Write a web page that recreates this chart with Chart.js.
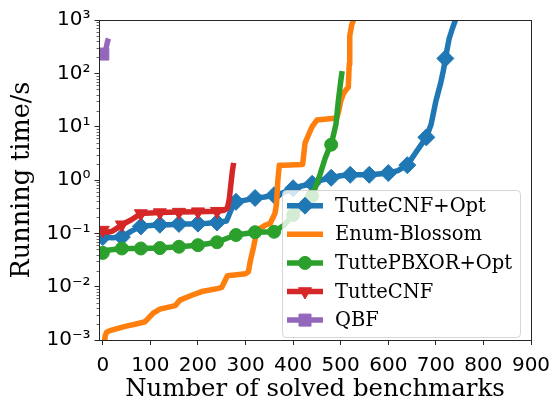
<!DOCTYPE html>
<html>
<head>
<meta charset="utf-8">
<script src="https://cdn.jsdelivr.net/npm/chart.js@4.4.1/dist/chart.umd.min.js"></script>
<style>
  html, body { margin: 0; padding: 0; background: #fff; }
  #wrap { width: 555px; height: 405px; }
</style>
</head>
<body>
<div id="wrap"><canvas id="cactus" width="555" height="405"></canvas></div>
<script>
// axis ticks
const xTicks = [0, 100, 200, 300, 400, 500, 600, 700, 800, 900];
const yTicks = [0.001, 0.01, 0.1, 1, 10, 100, 1000];
const yTickLabels = ["10⁻³", "10⁻²", "10⁻¹", "10⁰", "10¹", "10²", "10³"];

const seriesNames = ["TutteCNF+Opt", "Enum-Blossom", "TuttePBXOR+Opt", "TutteCNF", "QBF"];

// number of solved benchmarks -> running time (s)
const optX = [0, 20, 40, 60, 80, 100, 120, 140, 160, 180, 200, 220, 240, 260, 270, 280, 300, 320, 340, 360, 380, 400, 420, 440, 460, 480, 500, 520, 540, 560, 580, 600, 620, 640, 660, 680, 690, 700, 710, 716, 720, 728, 735, 742];
const optY = [0.085, 0.083, 0.085, 0.11, 0.135, 0.14, 0.145, 0.145, 0.15, 0.15, 0.152, 0.155, 0.16, 0.17, 0.28, 0.39, 0.42, 0.46, 0.48, 0.52, 0.58, 0.7, 0.78, 0.85, 1.0, 1.1, 1.2, 1.25, 1.25, 1.25, 1.3, 1.35, 1.5, 1.9, 3.5, 6.3, 11, 30, 65, 115, 190, 450, 700, 1050];

const enumX = [3, 5, 8, 15, 26, 47, 70, 89, 100, 106, 120, 152, 162, 187, 208, 243, 250, 255, 262, 300, 306, 310, 317, 324, 340, 352, 358, 362, 365, 368, 371, 380, 420, 425, 432, 440, 450, 492, 496, 500, 506, 512, 516, 518, 519, 523, 527, 530];
const enumY = [0.0008, 0.0012, 0.0014, 0.0015, 0.0016, 0.0018, 0.002, 0.0022, 0.0028, 0.0032, 0.0038, 0.0044, 0.0056, 0.0069, 0.0081, 0.0093, 0.0097, 0.012, 0.016, 0.0175, 0.019, 0.03, 0.056, 0.115, 0.14, 0.155, 0.2, 0.24, 0.35, 1.0, 1.9, 1.9, 1.95, 4.9, 6.9, 10, 13.3, 14.5, 20, 30, 42, 50, 55, 150, 500, 800, 1000, 1200];

const pbxorX = [0, 10, 40, 80, 120, 160, 200, 240, 260, 280, 320, 360, 380, 400, 420, 440, 446, 457, 467, 475, 480, 490, 495, 500, 503];
const pbxorY = [0.043, 0.048, 0.052, 0.052, 0.053, 0.056, 0.06, 0.068, 0.08, 0.093, 0.105, 0.107, 0.14, 0.22, 0.32, 0.5, 0.7, 1.3, 2.5, 3.8, 4.6, 11, 30, 70, 110];

const cnfX = [0, 10, 20, 30, 40, 60, 75, 80, 120, 160, 200, 240, 255, 262, 266, 269, 272, 275];
const cnfY = [0.115, 0.105, 0.11, 0.125, 0.145, 0.18, 0.22, 0.235, 0.245, 0.25, 0.255, 0.26, 0.27, 0.3, 0.45, 0.8, 1.4, 2.1];

const qbfX = [0, 2, 4, 6, 8, 10, 12];
const qbfY = [230, 240, 250, 270, 330, 400, 450];

const markEvery = 40;

function toPoints(xs, ys) {
  return xs.map((x, i) => ({ x: x, y: ys[i] }));
}

function series(label, xs, ys, color, style, radius, order, rotation) {
  return {
    label: label,
    data: toPoints(xs, ys),
    borderColor: color,
    backgroundColor: color,
    borderWidth: 5.5,
    borderJoinStyle: "round",
    tension: 0,
    pointStyle: style,
    pointRotation: rotation || 0,
    markerRadius: radius,
    pointRadius: ctx => (ctx.raw && ctx.raw.x % markEvery === 0) ? radius : 0,
    pointBackgroundColor: color,
    pointBorderColor: color,
    pointBorderWidth: 1,
    clip: 0,
    order: order,
  };
}

const datasets = [
  series(seriesNames[0], optX, optY, "#1f77b4", "rectRot", 8.5, 5),
  series(seriesNames[1], enumX, enumY, "#ff7f0e", false, 0, 4),
  series(seriesNames[2], pbxorX, pbxorY, "#2ca02c", "circle", 6.5, 3),
  series(seriesNames[3], cnfX, cnfY, "#d62728", "triangle", 7.5, 2, 180),
  series(seriesNames[4], qbfX, qbfY, "#9467bd", "rect", 8.5, 1),
];

// box round the axes, minor log ticks and the framed legend
const framePlugin = {
  id: "frame",
  afterDraw(chart) {
    const { ctx, chartArea: a } = chart;
    const yScale = chart.scales.y;
    ctx.save();

    ctx.strokeStyle = "#262626";
    for (let d = 0; d < yTicks.length - 1; d++) {
      for (let m = 2; m < 10; m++) {
        const py = Math.round(yScale.getPixelForValue(yTicks[d] * m)) + 0.5;
        ctx.beginPath();
        ctx.moveTo(a.left - 2.5, py);
        ctx.lineTo(a.left, py);
        ctx.lineWidth = 0.7;
        ctx.stroke();
      }
    }
    ctx.lineWidth = 1;
    ctx.strokeRect(Math.round(a.left) + 0.5, Math.round(a.top) + 0.5, Math.round(a.right - a.left), Math.round(a.bottom - a.top));

    // legend
    const box = { x: 282.5, y: 190.5, w: 238, h: 147 };
    ctx.beginPath();
    ctx.roundRect(box.x, box.y, box.w, box.h, 4);
    ctx.fillStyle = "rgba(255,255,255,0.8)";
    ctx.fill();
    ctx.strokeStyle = "rgba(204,204,204,0.8)";
    ctx.lineWidth = 1;
    ctx.stroke();

    ctx.font = '19.5px "DejaVu Serif"';
    ctx.textBaseline = "middle";
    chart.data.datasets.forEach((ds, i) => {
      const cy = 205.7 + i * 28.6;
      ctx.strokeStyle = ds.borderColor;
      ctx.lineWidth = ds.borderWidth;
      ctx.lineCap = "butt";
      ctx.beginPath();
      ctx.moveTo(287, cy);
      ctx.lineTo(323, cy);
      ctx.stroke();
      if (ds.markerRadius > 0) {
        ctx.fillStyle = ds.pointBackgroundColor;
        ctx.strokeStyle = ds.pointBorderColor;
        ctx.lineWidth = 1;
        Chart.helpers.drawPoint(ctx, {
          pointStyle: ds.pointStyle,
          radius: ds.markerRadius,
          rotation: ds.pointRotation,
          borderWidth: 1,
        }, 305, cy);
      }
      ctx.fillStyle = "#000";
      ctx.fillText(ds.label, 335, cy + 1);
    });
    ctx.restore();
  },
};

new Chart(document.getElementById("cactus"), {
  type: "line",
  data: { datasets: datasets },
  plugins: [framePlugin],
  options: {
    responsive: false,
    animation: false,
    events: [],
    layout: { padding: { top: 20, right: 24, bottom: 0, left: 0 } },
    plugins: { legend: { display: false }, tooltip: { enabled: false } },
    scales: {
      x: {
        type: "linear",
        min: -8,
        max: 900,
        afterBuildTicks: scale => { scale.ticks = xTicks.map(v => ({ value: v })); },
        afterFit: scale => {
          scale.height = 65;
          scale.paddingLeft = 0;
          scale.paddingRight = 0;
        },
        border: { display: false },
        grid: { drawOnChartArea: false, drawTicks: true, tickLength: 5, tickColor: "#262626", tickWidth: 1 },
        ticks: {
          color: "#000",
          padding: 9,
          maxRotation: 0,
          autoSkip: false,
          font: { family: "DejaVu Sans", size: 20 },
        },
        title: {
          display: true,
          text: "Number of solved benchmarks",
          color: "#000",
          font: { family: "DejaVu Serif", size: 24.4 },
          padding: { top: 0, bottom: 1 },
        },
      },
      y: {
        type: "logarithmic",
        min: 0.001,
        max: 1000,
        afterBuildTicks: scale => { scale.ticks = yTicks.map(v => ({ value: v, major: true })); },
        afterFit: scale => { scale.width = 99; },
        border: { display: false },
        grid: { drawOnChartArea: false, drawTicks: true, tickLength: 4.5, tickColor: "#262626", tickWidth: 1 },
        ticks: {
          color: "#000",
          padding: 4,
          autoSkip: false,
          font: { family: "DejaVu Sans", size: 20 },
          callback: value => {
            const i = yTicks.indexOf(value);
            return i >= 0 ? yTickLabels[i] : "";
          },
        },
        title: {
          display: true,
          text: "Running time/s",
          color: "#000",
          font: { family: "DejaVu Serif", size: 25.5 },
          padding: { top: 7, bottom: 0 },
        },
      },
    },
  },
});
</script>
</body>
</html>
